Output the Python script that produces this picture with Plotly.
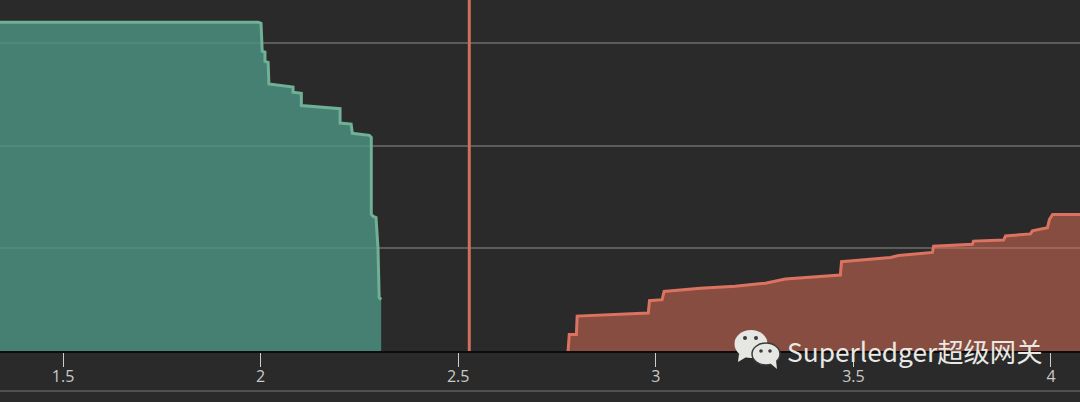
import plotly.graph_objects as go

green_x = [1.3405, 1.994, 2.001, 2.004, 2.011, 2.011, 2.019, 2.021, 2.082, 2.082, 2.103, 2.103, 2.201, 2.201,
           2.229, 2.232, 2.275, 2.280, 2.280, 2.285, 2.292, 2.297, 2.300, 2.305]
green_y = [3.20, 3.20, 3.19, 2.92, 2.91, 2.82, 2.81, 2.60, 2.57, 2.52, 2.51, 2.39, 2.36, 2.22,
           2.21, 2.12, 2.10, 2.08, 1.33, 1.31, 1.30, 1.00, 0.52, 0.50]
red_x = [2.778, 2.781, 2.799, 2.801, 2.981, 2.984, 3.016, 3.021, 3.113, 3.201, 3.277, 3.328, 3.467,
         3.470, 3.505, 3.594, 3.614, 3.700, 3.703, 3.801, 3.804, 3.880, 3.885, 3.948, 3.953, 3.991,
         3.996, 4.004, 4.0734]
red_y = [0, 0.16, 0.16, 0.34, 0.37, 0.49, 0.50, 0.58, 0.61, 0.63, 0.66, 0.70, 0.74,
         0.87, 0.88, 0.91, 0.93, 0.96, 1.02, 1.04, 1.07, 1.08, 1.12, 1.14, 1.17, 1.20,
         1.28, 1.33, 1.33]
current_price = 2.528
tick_vals = [1.5, 2, 2.5, 3, 3.5, 4]
tick_text = ["1.5", "2", "2.5", "3", "3.5", "4"]
grid_vals = [1, 2, 3]
watermark = "Superledger超级网关"

BG = "#2a2a2b"
W, PH = 1080, 351
def px(v): return v / W
def py(v): return (PH - v) / PH

def ell(cx, cy, rx, ry, fill, line=None, lw=0):
    return dict(type="circle", xref="paper", yref="paper", layer="above",
                x0=px(cx - rx), x1=px(cx + rx), y0=py(cy + ry), y1=py(cy - ry),
                fillcolor=fill, line=dict(color=line or fill, width=lw))
def tri(pts, fill):
    d = "M " + " L ".join(f"{px(a):.5f},{py(b):.5f}" for a, b in pts) + " Z"
    return dict(type="path", xref="paper", yref="paper", layer="above", path=d,
                fillcolor=fill, line=dict(width=0))

ICON = "#e6e6e2"
shapes = [
    dict(type="line", xref="x", yref="paper", x0=current_price, x1=current_price, y0=0, y1=1,
         line=dict(color="#cf6f5c", width=3), layer="above"),
    dict(type="line", xref="paper", yref="paper", x0=0, x1=1, y0=py(391), y1=py(391),
         line=dict(color="#505051", width=2), layer="above"),
    ell(751, 344, 16.5, 14, ICON),
    tri([(739, 354), (738, 362), (748, 356)], ICON),
    ell(766, 354, 14, 11, ICON, line="#3a3a3a", lw=1.5),
    tri([(770, 363), (777, 369), (776, 360)], ICON),
    ell(745, 338, 2, 2, "#3a3a3a"),
    ell(756, 338, 2, 2, "#3a3a3a"),
    ell(761, 351, 1.8, 1.8, "#3a3a3a"),
    ell(770, 351, 1.8, 1.8, "#3a3a3a"),
]

fig = go.Figure()
fig.add_trace(go.Scatter(x=green_x, y=green_y, mode="lines", fill="tozeroy",
                         fillcolor="rgba(76,148,130,0.82)",
                         line=dict(color="#6fb096", width=3), hoverinfo="skip"))
fig.add_trace(go.Scatter(x=red_x, y=red_y, mode="lines", fill="tozeroy",
                         fillcolor="rgba(220,110,85,0.52)",
                         line=dict(color="#dc7360", width=3), hoverinfo="skip"))
fig.update_layout(
    width=1080, height=402, margin=dict(l=0, r=0, t=0, b=51, pad=0),
    paper_bgcolor=BG, plot_bgcolor=BG, showlegend=False, shapes=shapes,
    annotations=[dict(text=watermark, xref="paper", yref="paper", x=px(785), y=py(350),
                      xanchor="left", yanchor="middle", showarrow=False,
                      font=dict(family="Noto Sans CJK SC", size=26.3, color="#e8e8e4"))],
    xaxis=dict(range=[1.3405, 4.0734], tickvals=tick_vals, ticktext=tick_text,
               ticks="outside", ticklen=14, tickwidth=1.2, tickcolor="#cfcfcf",
               ticklabelstandoff=-4,
               tickfont=dict(family="Open Sans", size=16, color="#c9c9c9"),
               showgrid=False, zeroline=False, showline=True, linecolor="#0c0c0c", linewidth=1.5),
    yaxis=dict(range=[0, PH / 102.7], tickvals=grid_vals, showticklabels=False, ticks="",
               showgrid=True, gridcolor="#5c5c5c", gridwidth=1.5, zeroline=False, showline=False),
)
fig.write_html("out.html", config={"displayModeBar": False},
               post_script="document.body.style.margin='0';document.documentElement.style.background='#2a2a2b';")
